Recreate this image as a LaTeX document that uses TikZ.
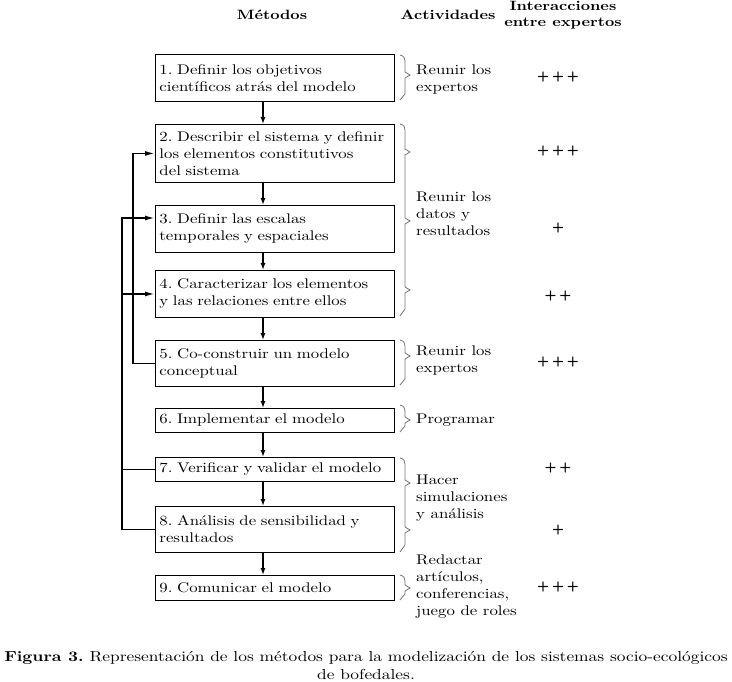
\documentclass[tikz,border=0pt]{standalone}
\usepackage{fontspec}
\setmainfont{lmroman10-regular.otf}[FakeStretch=1.2,BoldFont=lmroman10-bold.otf,ItalicFont=lmroman10-italic.otf]
\usetikzlibrary{arrows.meta}
\frenchspacing
\newcommand\onebrace[4]{%
  \draw[brc] (#1,#2) .. controls (#1+4,#2+1) and (#1+5,#2+3) .. (#1+5,#2+6) -- (#1+5,#4-3) -- (#1+10,#4) -- (#1+5,#4+3) -- (#1+5,#3-6) -- (#1,#3);}
\begin{document}
\begin{tikzpicture}[x=1pt,y=-1pt,
  txt/.style={font=\fontsize{14}{17}\selectfont},
  box/.style={txt,draw,line width=0.9pt,anchor=north west,minimum width=239pt,text width=231pt,inner xsep=4pt,inner ysep=2pt,align=left},
  hdr/.style={font=\fontsize{13.5}{16.5}\selectfont\bfseries,align=center},
  act/.style={txt,anchor=west,align=left,inner sep=0pt},
  plus/.style={font=\fontsize{14}{15}\selectfont\bfseries\sffamily},
  flow/.style={line width=1.3pt,-{Latex[length=7pt,width=5pt]}},
  fb/.style={line width=1.7pt},
  fba/.style={fb,-{Latex[length=10pt,width=5pt]}},
  brc/.style={draw=black!55,line width=0.8pt,line join=miter}]
\useasboundingbox (0,0) rectangle (732,682);
% headers
\node[hdr] (hm) at (272,15) {Métodos};
\node[hdr] (ha) at (448,15) {Actividades};
\node[hdr] (hi) at (563,15) {Interacciones\\entre expertos};
% boxes
\node[box,minimum height=47pt] (b1) at (155,54) {1. Definir los objetivos\\científicos atrás del modelo};
\node[box,minimum height=58pt] (b2) at (155,124) {2. Describir el sistema y definir\\los elementos constitutivos\\del sistema};
\node[box,minimum height=47pt] (b3) at (155,205) {3. Definir las escalas\\temporales y espaciales};
\node[box,minimum height=47pt] (b4) at (155,270) {4. Caracterizar los elementos\\y las relaciones entre ellos};
\node[box,minimum height=46pt] (b5) at (155,340) {5. Co-construir un modelo\\conceptual};
\node[box,minimum height=24pt] (b6) at (155,408) {6. Implementar el modelo};
\node[box,minimum height=24pt] (b7) at (155,457) {7. Verificar y validar el modelo};
\node[box,minimum height=46pt] (b8) at (155,506) {8. Análisis de sensibilidad y\\resultados};
\node[box,minimum height=25pt] (b9) at (155,575) {9. Comunicar el modelo};
% main flow
\coordinate (ax) at (263,0);
\draw[flow] (b1.south -| ax) -- (b2.north -| ax);
\draw[flow] (b2.south -| ax) -- (b3.north -| ax);
\draw[flow] (b3.south -| ax) -- (b4.north -| ax);
\draw[flow] (b4.south -| ax) -- (b5.north -| ax);
\draw[flow] (b5.south -| ax) -- (b6.north -| ax);
\draw[flow] (b6.south -| ax) -- (b7.north -| ax);
\draw[flow] (b7.south -| ax) -- (b8.north -| ax);
\draw[flow] (b8.south -| ax) -- (b9.north -| ax);
% feedback loops
\coordinate (t1) at (133,0);
\coordinate (t2) at (122,0);
\coordinate (b3in) at (155,218);
\draw[fba] (b5.west) -- (b5.west -| t1) |- (b2.west);
\draw[fba] (b8.west) -- (b8.west -| t2) |- (b3in);
\draw[fb] (b7.west) -- (b7.west -| t2);
\draw[fba] (b4.west -| t2) -- (b4.west);
% braces
\onebrace{400}{55}{100}{75}
\draw[brc] (400,124) .. controls (404,125) and (405,127) .. (405,130) -- (405,149) -- (410,152) -- (405,155)
  -- (405,218) -- (410,221) -- (405,224) -- (405,287) -- (410,290) -- (405,293) -- (405,309) -- (400,316);
\onebrace{400}{340}{385}{356}
\onebrace{400}{405}{432}{420}
\draw[brc] (400,458) .. controls (404,459) and (405,461) .. (405,464) -- (405,480) -- (410,483) -- (405,486)
  -- (405,527) -- (410,530) -- (405,533) -- (405,545) -- (400,552);
\onebrace{400}{575}{600}{588}
% activities
\node[act] (a1) at (416,80) {Reunir los\\expertos};
\node[act] (a2) at (416,214) {Reunir los\\datos y\\resultados};
\node[act] (a5) at (416,360) {Reunir los\\expertos};
\node[act] (a6) at (416,420) {Programar};
\node[act] (a7) at (416,498) {Hacer\\simulaciones\\y análisis};
\node[act] (a9) at (416,587) {Redactar\\artículos,\\conferencias,\\juego de roles};
% interactions
\node[plus] (p1) at (558,77) {+\hspace{3pt}+\hspace{3pt}+};
\node[plus] (p2) at (558,151) {+\hspace{3pt}+\hspace{3pt}+};
\node[plus] (p3) at (558,228) {+};
\node[plus] (p4) at (558,296) {+\hspace{3pt}+};
\node[plus] (p5) at (558,362) {+\hspace{3pt}+\hspace{3pt}+};
\node[plus] (p7) at (558,468) {+\hspace{3pt}+};
\node[plus] (p8) at (558,530) {+};
\node[plus] (p9) at (558,587) {+\hspace{3pt}+\hspace{3pt}+};
% caption
\node[font=\fontsize{14.5}{18}\selectfont,align=center,inner sep=0pt] (cap) at (366,666) {\textbf{Figura 3.} Representación de los métodos para la modelización de los sistemas socio-ecológicos\\de bofedales.};
\end{tikzpicture}
\end{document}
